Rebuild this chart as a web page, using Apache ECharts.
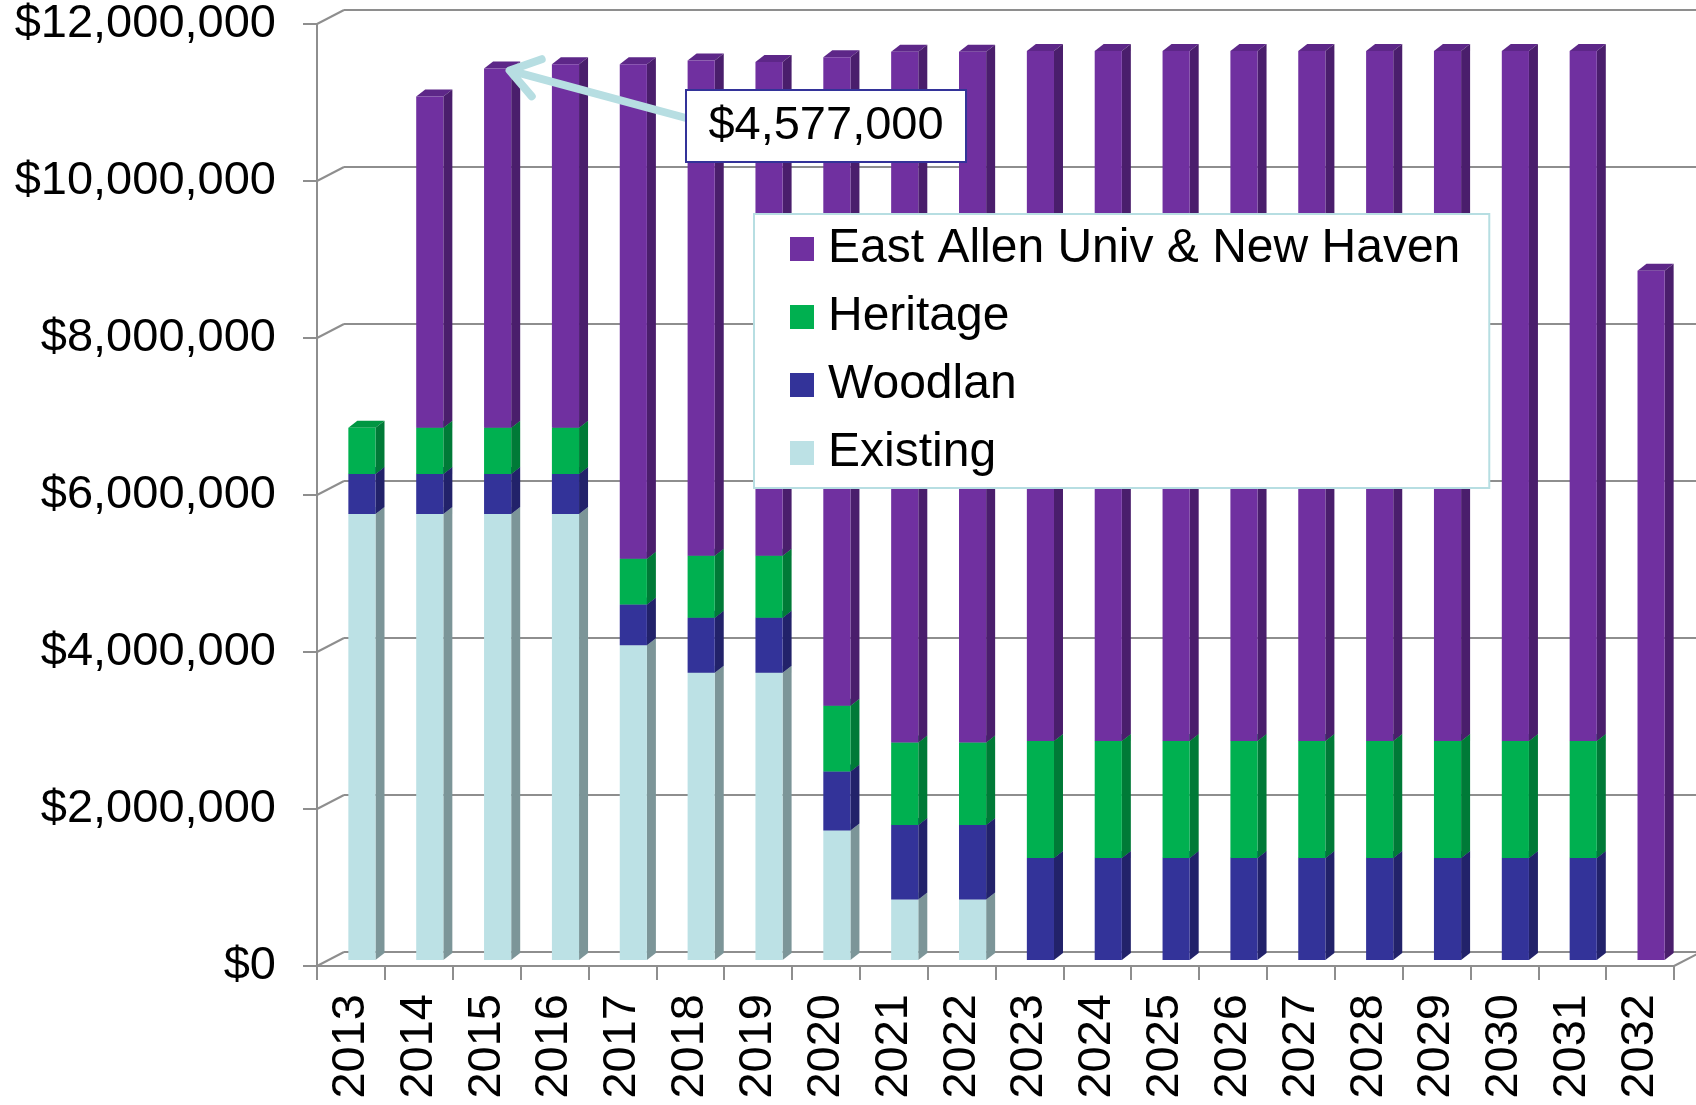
<!DOCTYPE html>
<html>
<head>
<meta charset="utf-8">
<script src="https://cdn.jsdelivr.net/npm/echarts@6/dist/echarts.min.js"></script>
<style>
html, body { margin: 0; padding: 0; background: #fff; }
#main { width: 1696px; height: 1105px; }
</style>
</head>
<body>
<div id="main"></div>
<script>
// data (dollars)
var years = ['2013', '2014', '2015', '2016', '2017', '2018', '2019', '2020', '2021', '2022',
    '2023', '2024', '2025', '2026', '2027', '2028', '2029', '2030', '2031', '2032'];
var existing = [5680000, 5680000, 5680000, 5680000, 4010000, 3660000, 3660000, 1650000, 770000, 770000,
    0, 0, 0, 0, 0, 0, 0, 0, 0, 0];
var woodlan = [510000, 510000, 510000, 510000, 520000, 700000, 700000, 750000, 950000, 950000,
    1300000, 1300000, 1300000, 1300000, 1300000, 1300000, 1300000, 1300000, 1300000, 0];
var heritage = [590000, 590000, 590000, 590000, 580000, 790000, 790000, 840000, 1050000, 1050000,
    1490000, 1490000, 1490000, 1490000, 1490000, 1490000, 1490000, 1490000, 1490000, 0];
var eastAllen = [0, 4220000, 4577000, 4630000, 6300000, 6310000, 6290000, 8260000, 8800000, 8800000,
    8790000, 8790000, 8790000, 8790000, 8790000, 8790000, 8790000, 8790000, 8790000, 8780000];
var yTicks = [0, 2000000, 4000000, 6000000, 8000000, 10000000, 12000000];
var calloutYear = '2015';
var calloutText = '$4,577,000';

var FONT = "'Liberation Sans', Arial, sans-serif";
var GRID_COLOR = '#8e8e8e';
var DEPTH_X = 27, DEPTH_Y = 14;   // front axis -> back wall
var SIDE_X = 9, SIDE_Y = 7;       // bar side / top face

var chart = echarts.init(document.getElementById('main'));

function money(v) {
    return '$' + String(v).replace(/\B(?=(\d{3})+(?!\d))/g, ',');
}

// stacked bars as front face + side + top
function barSeries(name, vals, bases, colors) {
    var data = [];
    for (var i = 0; i < vals.length; i++) {
        data.push([i, bases[i], vals[i]]);
    }
    return {
        name: name,
        type: 'custom',
        xAxisIndex: 0,
        yAxisIndex: 0,
        itemStyle: {color: colors[0]},
        encode: {x: 0, y: 1},
        data: data,
        renderItem: function (params, api) {
            var val = api.value(2);
            if (!val) {
                return {type: 'group', children: []};
            }
            var bot = api.coord([api.value(0), api.value(1)]);
            var top = api.coord([api.value(0), api.value(1) + val]);
            var bw = api.size([1, 0])[0] * 0.4;
            var x = bot[0] - bw / 2;
            return {
                type: 'group',
                children: [
                    {
                        type: 'polygon',
                        shape: {points: [[x, top[1]], [x + SIDE_X, top[1] - SIDE_Y], [x + bw + SIDE_X, top[1] - SIDE_Y], [x + bw, top[1]]]},
                        style: {fill: colors[2]}
                    },
                    {
                        type: 'polygon',
                        shape: {points: [[x + bw, top[1]], [x + bw + SIDE_X, top[1] - SIDE_Y], [x + bw + SIDE_X, bot[1] - SIDE_Y], [x + bw, bot[1]]]},
                        style: {fill: colors[1]}
                    },
                    {
                        type: 'rect',
                        shape: {x: x, y: top[1], width: bw, height: bot[1] - top[1]},
                        style: {fill: colors[0]}
                    }
                ]
            };
        }
    };
}

var base0 = [], base1 = [], base2 = [], base3 = [];
for (var i = 0; i < years.length; i++) {
    base0.push(0);
    base1.push(existing[i]);
    base2.push(existing[i] + woodlan[i]);
    base3.push(existing[i] + woodlan[i] + heritage[i]);
}

// diagonal connectors from front axis to back wall
var wallSeries = {
    type: 'custom',
    xAxisIndex: 1,
    yAxisIndex: 1,
    silent: true,
    z: 1,
    data: yTicks.map(function (v) { return [0, v]; }),
    renderItem: function (params, api) {
        var p = api.coord([0, api.value(1)]);
        var cs = params.coordSys;
        var kids = [{
            type: 'line',
            shape: {x1: cs.x, y1: p[1], x2: cs.x + DEPTH_X, y2: p[1] - DEPTH_Y},
            style: {stroke: GRID_COLOR, lineWidth: 2}
        }];
        if (api.value(1) === 0) {
            kids.push({
                type: 'line',
                shape: {x1: cs.x + cs.width, y1: p[1], x2: cs.x + cs.width + DEPTH_X, y2: p[1] - DEPTH_Y},
                style: {stroke: GRID_COLOR, lineWidth: 2}
            });
        }
        return {type: 'group', children: kids};
    }
};

var option = {
    backgroundColor: '#fff',
    animation: false,
    grid: [
        {left: 328, top: 18, width: 1357, height: 942},   // bar plane
        {left: 317, top: 24, width: 1357, height: 942},   // front axes
        {left: 344, top: 10, width: 1357, height: 942}    // back wall
    ],
    xAxis: [
        {type: 'category', gridIndex: 0, data: years, show: false},
        {
            type: 'category', gridIndex: 1, data: years,
            axisLine: {lineStyle: {color: GRID_COLOR, width: 2}},
            axisTick: {show: true, interval: 0, length: 14, lineStyle: {color: GRID_COLOR, width: 2}},
            axisLabel: {interval: 0, rotate: 90, margin: 28, fontSize: 47, color: '#000', fontFamily: FONT}
        },
        {type: 'category', gridIndex: 2, data: years, show: false}
    ],
    yAxis: [
        {type: 'value', gridIndex: 0, min: 0, max: 12000000, interval: 2000000, show: false},
        {
            type: 'value', gridIndex: 1, min: 0, max: 12000000, interval: 2000000,
            axisLine: {show: true, lineStyle: {color: GRID_COLOR, width: 2}},
            axisTick: {show: true, length: 14, lineStyle: {color: GRID_COLOR, width: 2}},
            splitLine: {show: false},
            axisLabel: {margin: 41, fontSize: 47, color: '#000', fontFamily: FONT, formatter: money}
        },
        {
            type: 'value', gridIndex: 2, min: 0, max: 12000000, interval: 2000000,
            axisLine: {show: false}, axisTick: {show: false}, axisLabel: {show: false},
            splitLine: {show: true, lineStyle: {color: GRID_COLOR, width: 2}}
        }
    ],
    legend: {
        orient: 'vertical',
        left: 754,
        top: 214,
        data: ['East Allen Univ & New Haven', 'Heritage', 'Woodlan', 'Existing'],
        icon: 'rect',
        itemWidth: 24,
        itemHeight: 24,
        itemGap: 18,
        backgroundColor: '#fff',
        borderColor: '#b7dee2',
        borderWidth: 2,
        padding: [10, 29, 10, 36],
        textStyle: {fontSize: 48, lineHeight: 50, color: '#000', fontFamily: FONT, padding: [0, 0, 0, 9]}
    },
    series: [
        wallSeries,
        barSeries('Existing', existing, base0, ['#bce1e5', '#7c9598', '#a6c9cd']),
        barSeries('Woodlan', woodlan, base1, ['#333399', '#22226a', '#2a2a80']),
        barSeries('Heritage', heritage, base2, ['#00b050', '#007a37', '#009642']),
        barSeries('East Allen Univ & New Haven', eastAllen, base3, ['#7030a0', '#4a1e6c', '#5d2788'])
    ]
};
chart.setOption(option);

// callout pointing at the top of the callout year's bar
var ci = years.indexOf(calloutYear);
var total = existing[ci] + woodlan[ci] + heritage[ci] + eastAllen[ci];
var tip = chart.convertToPixel({xAxisIndex: 0, yAxisIndex: 0}, [ci, total]);
tip = [tip[0] + 12, tip[1] + 2];
var boxX = 686, boxY = 90, boxW = 280, boxH = 72;
var start = [boxX, boxY + 28];
var ang = Math.atan2(start[1] - tip[1], start[0] - tip[0]);
var wing = 34;
var w1 = [tip[0] + wing * Math.cos(ang + 0.6), tip[1] + wing * Math.sin(ang + 0.6)];
var w2 = [tip[0] + wing * Math.cos(ang - 0.6), tip[1] + wing * Math.sin(ang - 0.6)];

chart.setOption({
    graphic: [
        {
            type: 'line', z: 100,
            shape: {x1: start[0], y1: start[1], x2: tip[0], y2: tip[1]},
            style: {stroke: '#b7dee2', lineWidth: 8}
        },
        {
            type: 'polyline', z: 100,
            shape: {points: [w1, tip, w2]},
            style: {stroke: '#b7dee2', lineWidth: 8, lineCap: 'round', lineJoin: 'round', fill: null}
        },
        {
            type: 'rect', z: 101,
            shape: {x: boxX, y: boxY, width: boxW, height: boxH},
            style: {fill: '#fff', stroke: '#333399', lineWidth: 2}
        },
        {
            type: 'text', z: 102,
            x: boxX + boxW / 2, y: boxY + boxH / 2,
            style: {
                text: calloutText, fill: '#000', fontSize: 47, fontFamily: FONT,
                align: 'center', verticalAlign: 'middle', textAlign: 'center', textVerticalAlign: 'middle'
            }
        }
    ]
});
</script>
</body>
</html>
